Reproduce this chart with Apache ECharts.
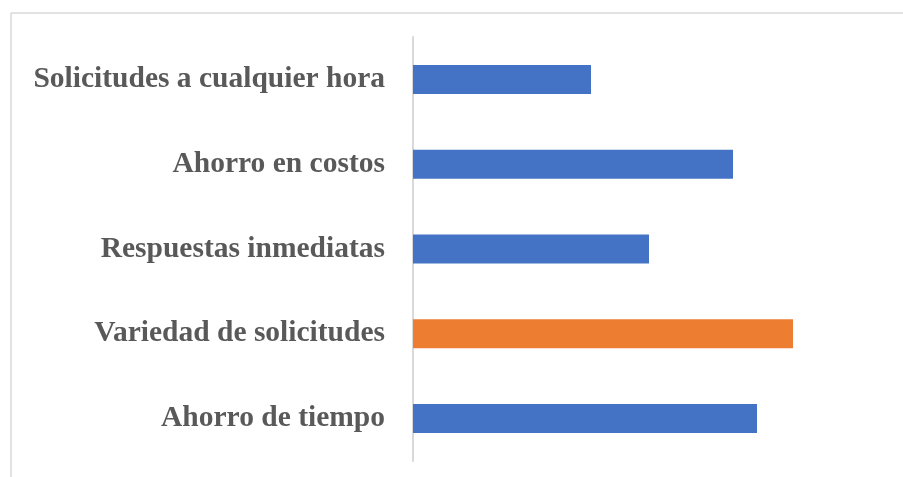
<!DOCTYPE html>
<html>
<head>
<meta charset="utf-8">
<script src="https://cdn.jsdelivr.net/npm/echarts@6/dist/echarts.min.js"></script>
<style>
  html, body { margin: 0; padding: 0; background: #fff; }
  #chart { width: 903px; height: 477px; }
</style>
</head>
<body>
<div id="chart"></div>
<script>
// categories, top to bottom
var categories = [
  "Solicitudes a cualquier hora",
  "Ahorro en costos",
  "Respuestas inmediatas",
  "Variedad de solicitudes",
  "Ahorro de tiempo"
];
// values (no axis labels in the original)
var values = [8.9, 16, 11.8, 19, 17.2];
var highlighted = "Variedad de solicitudes";

var chart = echarts.init(document.getElementById("chart"));

var option = {
  animation: false,
  grid: {
    left: 413,
    top: 37,
    bottom: 16,
    width: 470,
    containLabel: false
  },
  xAxis: {
    type: "value",
    min: 0,
    max: 23.5,
    show: false
  },
  yAxis: {
    type: "category",
    data: categories,
    inverse: true,
    axisLine: {
      lineStyle: { color: "#d9d9d9", width: 2 }
    },
    axisTick: { show: false },
    axisLabel: {
      margin: 28,
      color: "#595959",
      fontFamily: "Liberation Serif",
      fontWeight: "bold",
      fontSize: 29.5,
      padding: [0, 0, 3, 0]
    }
  },
  series: [{
    type: "bar",
    data: values,
    barWidth: 29,
    itemStyle: {
      color: function (p) {
        return p.name === highlighted ? "#ED7D31" : "#4472C4";
      }
    }
  }],
  graphic: [
    {
      type: "line",
      shape: { x1: 11, y1: 13, x2: 903, y2: 13 },
      style: { stroke: "#d9d9d9", lineWidth: 1.5 }
    },
    {
      type: "line",
      shape: { x1: 11, y1: 13, x2: 11, y2: 477 },
      style: { stroke: "#d9d9d9", lineWidth: 1.5 }
    }
  ]
};

chart.setOption(option);
</script>
</body>
</html>
